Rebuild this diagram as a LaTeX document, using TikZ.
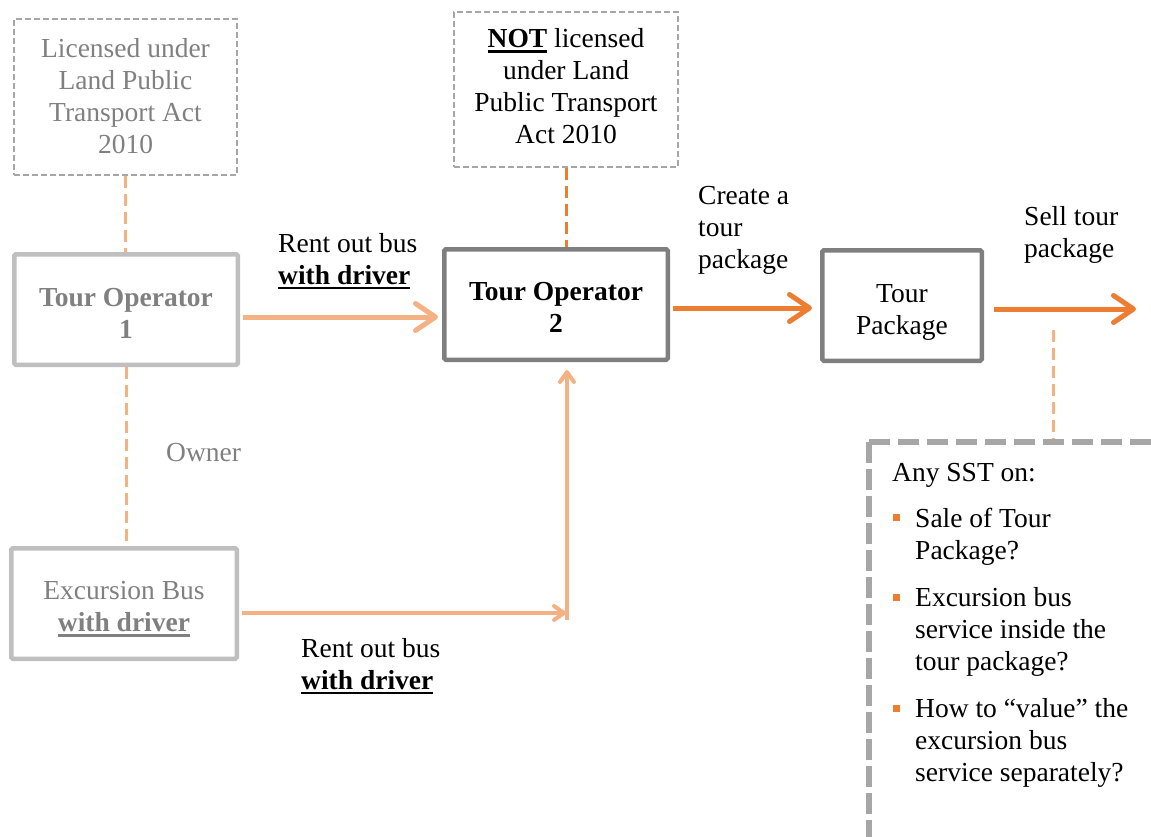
\documentclass[tikz,border=0pt]{standalone}
\usepackage{fontspec}
\setmainfont{Liberation Serif}
\usetikzlibrary{arrows.meta}
\definecolor{lor}{HTML}{F4B183}
\definecolor{dor}{HTML}{ED7D31}
\definecolor{gone}{HTML}{BFBFBF}
\definecolor{gtwo}{HTML}{7F7F7F}
\definecolor{gthree}{HTML}{A6A6A6}
\definecolor{tgray}{HTML}{808080}
\newcommand\myul[1]{\setbox0\hbox{#1}\rlap{\rule[-5pt]{\wd0}{2.5pt}}\box0\relax}
\newcommand\dn[2]{\raisebox{#1}[\height][\depth]{\begin{tabular}{@{}c@{}}#2\end{tabular}}}
\begin{document}
\begin{tikzpicture}[x=1pt,y=-1pt,
 every node/.style={font=\fontsize{27.5}{32}\selectfont, inner sep=0pt, align=center},
 dbox/.style={draw=gthree, line width=2pt, dash pattern=on 6pt off 3pt},
 lbox/.style={draw=gone, line width=4.5pt, rounded corners=1.5pt, text=tgray},
 kbox/.style={draw=gtwo, line width=4.5pt, rounded corners=1.5pt},
 odash/.style={line width=3pt, dash pattern=on 12pt off 6pt},
 bigarr/.style={line width=5pt, -{Straight Barb[length=20pt,width=27pt,round]}},
 smallarr/.style={line width=4pt, -{Straight Barb[length=10pt,width=14pt,round]}},
 lbl/.style={align=left, anchor=west},
 bul/.style={fill=dor, minimum size=7pt, inner sep=0pt},
]
\useasboundingbox (0,0) rectangle (1151,836);
% boxes
\node[dbox, text=tgray, minimum width=223pt, minimum height=156pt] (lic) at (125.5,97) {\dn{-2pt}{Licensed under\\Land Public\\Transport Act\\2010}};
\node[lbox, minimum width=223.5pt, minimum height=110.5pt] (to1) at (126,309.5) {\dn{-7pt}{\textbf{Tour Operator}\\\textbf{1}}};
\node[lbox, minimum width=225.5pt, minimum height=110.5pt] (bus) at (124,603.5) {\dn{-6pt}{Excursion Bus\\\myul{\textbf{with driver}}}};
\node[dbox, minimum width=224pt, minimum height=155pt] (notl) at (566,89.5) {\dn{0pt}{\myul{\textbf{NOT}} licensed\\under Land\\Public Transport\\Act 2010}};
\node[kbox, minimum width=223.5pt, minimum height=110.5pt] (to2) at (556,304.5) {\dn{-6pt}{\textbf{Tour Operator}\\\textbf{2}}};
\node[kbox, minimum width=159.5pt, minimum height=110.5pt] (tp) at (902,305.5) {\dn{-7pt}{Tour\\Package}};
% coordinates
\coordinate (r1) at (0,317);
\coordinate (r2) at (0,308);
\coordinate (sellend) at (1136,309);
\coordinate (elbow) at (566,613);
\coordinate (elbowlow) at (567,620);
\coordinate (d1) at (1053,330);
\coordinate (sst) at (869,442);
\coordinate (sstr) at (1165,442);
\coordinate (sstb) at (869,850);
% dashed connectors
\draw[odash, lor] (lic.south) -- (lic.south |- to1.north);
\draw[odash, lor] (to1.south) -- (to1.south |- bus.north);
\draw[odash, dor] (notl.south) -- (notl.south |- to2.north);
% arrows
\draw[bigarr, lor] ([xshift=3pt]to1.east |- r1) -- ([xshift=-4pt]to2.west |- r1);
\draw[bigarr, dor] ([xshift=3pt]to2.east |- r2) -- ([xshift=-8pt]tp.west |- r2);
\draw[bigarr, dor] ([xshift=10pt]tp.east |- sellend) -- (sellend);
\draw[smallarr, lor] ([xshift=3pt]bus.east |- elbow) -- (elbow);
\draw[smallarr, lor] (elbowlow) -- ([yshift=-8pt]to2.south -| elbowlow);
% SST box
\draw[odash, lor] (d1) -- (d1 |- sst);
\draw[gthree, line width=6.5pt, dash pattern=on 21pt off 8pt] (sst) -- (sstr);
\draw[gthree, line width=6.5pt, dash pattern=on 21pt off 6pt] (sst) -- (sstb);
% labels
\node[lbl, text=tgray] (own) at (166,453) {Owner};
\node[lbl] (rl1) at (278,261) {Rent out bus\\\myul{\textbf{with driver}}};
\node[lbl] (rl2) at (301,666) {Rent out bus\\\myul{\textbf{with driver}}};
\node[lbl] (cr) at (698,230) {Create a\\tour\\package};
\node[lbl] (sell) at (1024,235) {Sell tour\\package};
\node[lbl] (any) at (892,475) {Any SST on:};
\node[bul] (b1) at (896.5,517) {};
\node[bul] (b2) at (896.5,597) {};
\node[bul] (b3) at (896.5,708) {};
\node[lbl] (i1) at (915,536.5) {Sale of Tour\\Package?};
\node[lbl] (i2) at (915,632) {Excursion bus\\service inside the\\tour package?};
\node[lbl] (i3) at (915,742.5) {How to “value” the\\excursion bus\\service separately?};
\end{tikzpicture}
\end{document}
